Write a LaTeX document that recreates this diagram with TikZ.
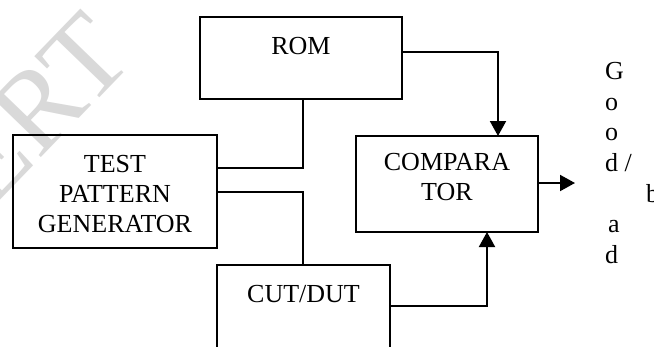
\documentclass[tikz,border=0pt]{standalone}
\usepackage{fontspec}
\setmainfont{Liberation Serif}
\usetikzlibrary{arrows.meta}
\begin{document}
\begin{tikzpicture}[x=1pt,y=-1pt,
  box/.style={draw,line width=2pt,inner sep=0pt,outer sep=0pt},
  wire/.style={line width=2pt},
  arr/.style={line width=2pt,-{Triangle[width=16pt,length=15pt]}},
  lbl/.style={anchor=base,inner sep=0pt,font=\fontsize{26}{30}\selectfont},
  gb/.style={anchor=base west,inner sep=0pt,font=\fontsize{26}{30}\selectfont}]
\clip (0,0) rectangle (654,346);
\fill[white] (0,0) rectangle (654,346);
% watermark
\node[anchor=base east,rotate=46,inner sep=0pt,text=black!15,font=\fontsize{115}{115}\selectfont] (wm) at (136,60) {IJERT};
% boxes
\node[box,minimum width=202pt,minimum height=82pt] (rom) at (301,58) {};
\node[box,minimum width=204pt,minimum height=113pt] (tpg) at (115,191.5) {};
\node[box,minimum width=182pt,minimum height=96pt] (comp) at (447,184) {};
\node[box,minimum width=173pt,minimum height=115pt] (cut) at (303.5,322.5) {};
% labels
\node[lbl] (tr) at (301,54) {ROM};
\node[lbl] (t1) at (115,172) {TEST};
\node[lbl] (t2) at (115,202) {PATTERN};
\node[lbl] (t3) at (115,232) {GENERATOR};
\node[lbl] (c1) at (447,170) {COMPARA};
\node[lbl] (c2) at (447,200) {TOR};
\node[lbl] (tc) at (303.5,302) {CUT/DUT};
% Good/bad
\node[gb] (g1) at (605,79) {G};
\node[gb] (g2) at (605,110) {o};
\node[gb] (g3) at (605,140) {o};
\node[gb] (g4) at (605,171) {d /};
\node[gb] (g5) at (646,202) {b};
\node[gb] (g6) at (608,232) {a};
\node[gb] (g7) at (605,263) {d};
% connectors
\coordinate (j1) at (303,168);
\coordinate (j2) at (303,192);
\coordinate (j3) at (498,52);
\coordinate (j4) at (487,306);
\coordinate (out) at (575,183);
\draw[wire] (rom.south -| j1) -- (j1) -- (j1 -| tpg.east);
\draw[wire] (j2 -| tpg.east) -- (j2) -- (j2 |- cut.north);
\draw[arr] (j3 -| rom.east) -- (j3) -- (j3 |- comp.north);
\draw[arr] (j4 -| cut.east) -- (j4) -- (j4 |- comp.south);
\draw[arr] (out -| comp.east) -- (out);
\end{tikzpicture}
\end{document}
